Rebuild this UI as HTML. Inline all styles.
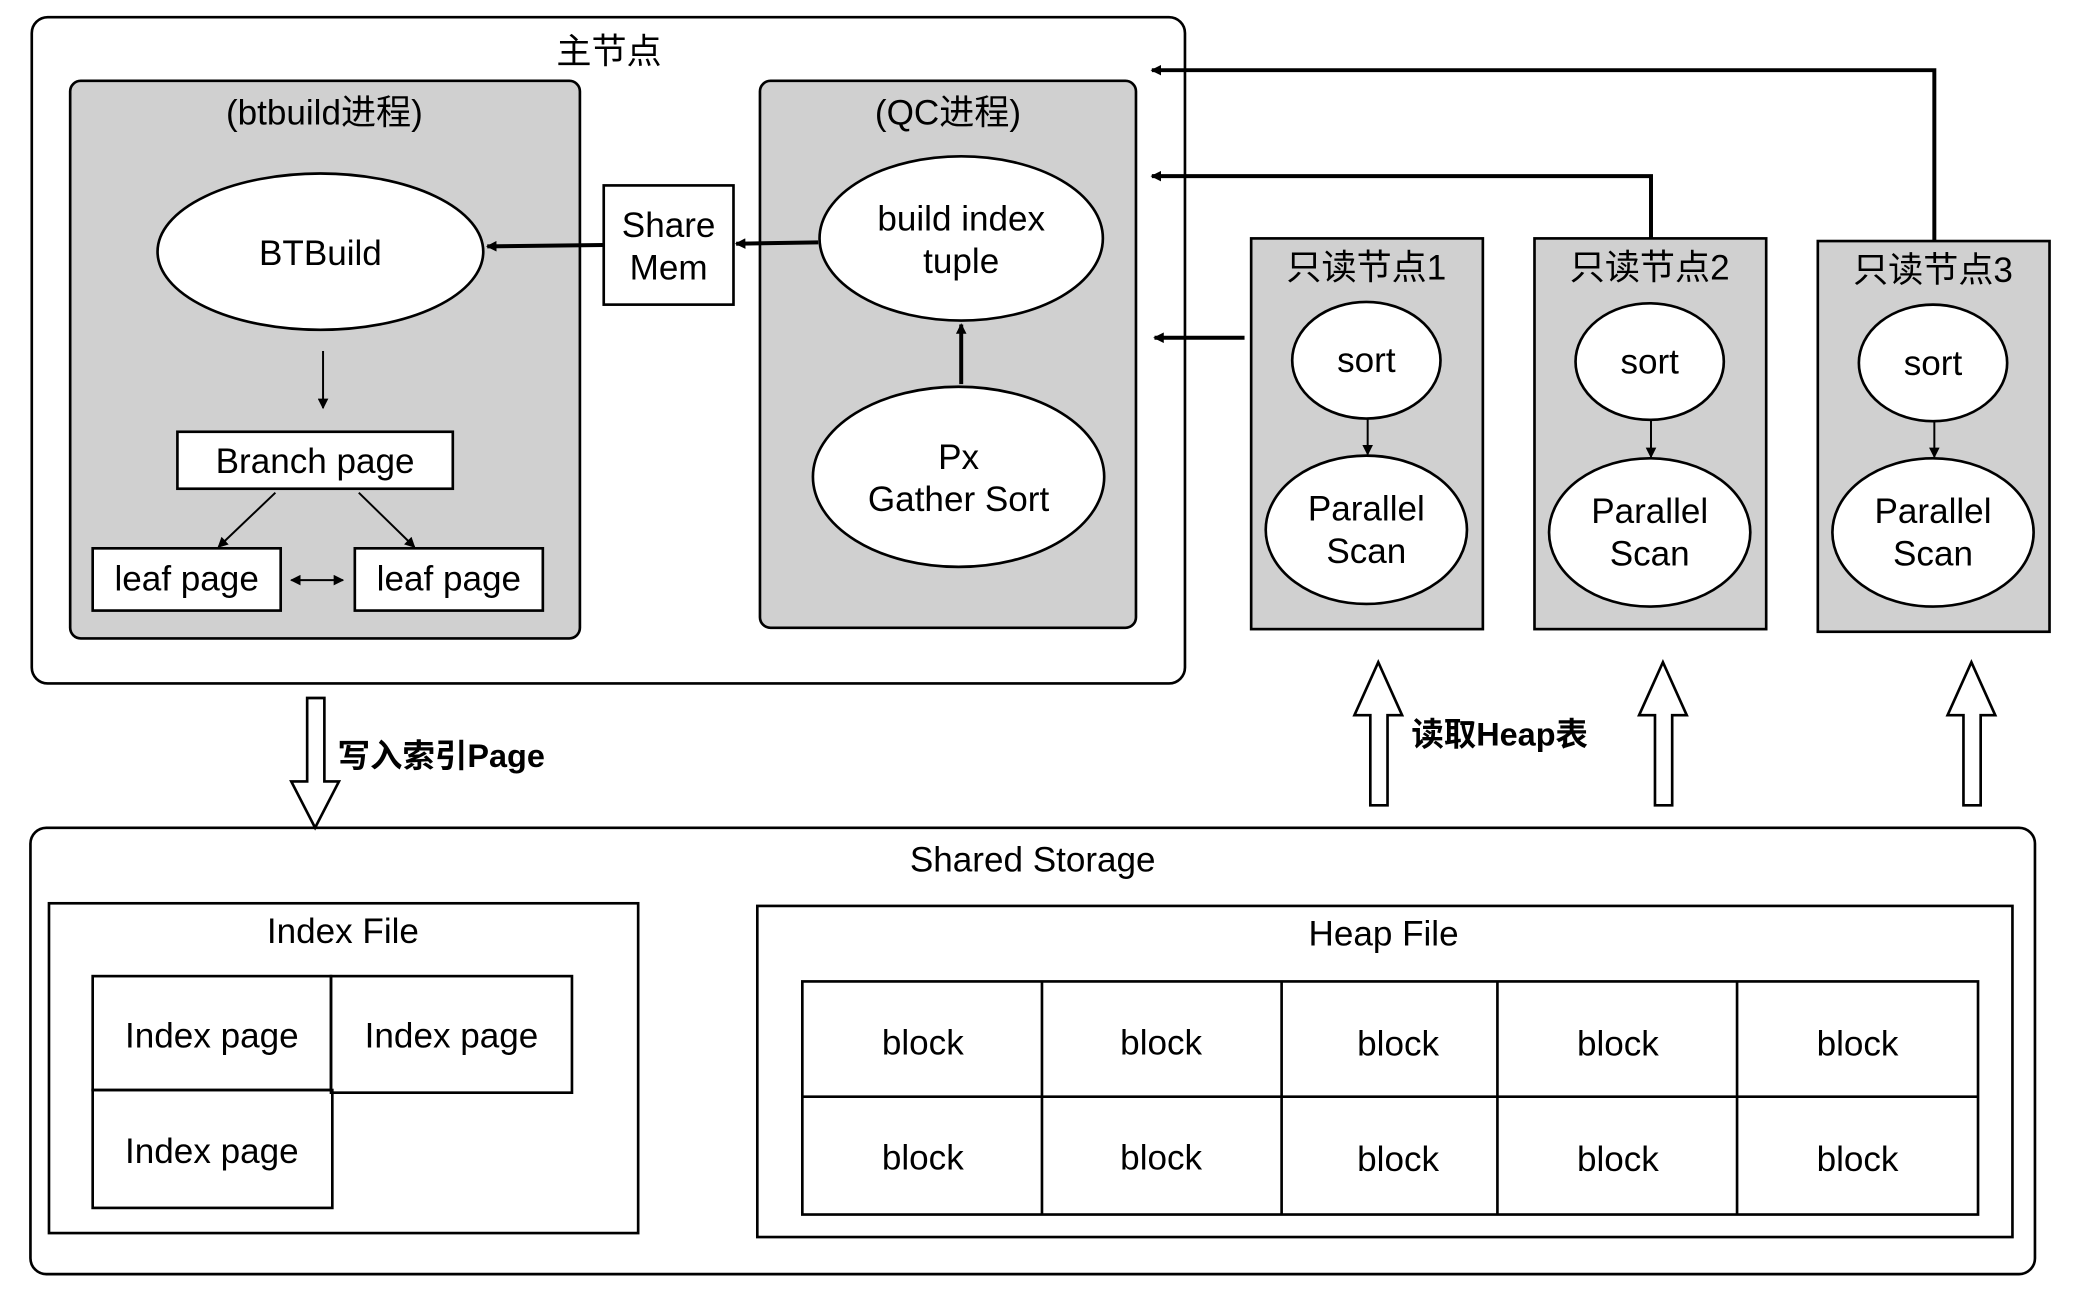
<!DOCTYPE html>
<html><head><meta charset="utf-8"><style>
html,body{margin:0;padding:0;background:#fff;}
svg{display:block;}
text{font-family:"Liberation Sans","Noto Sans CJK SC",sans-serif;fill:#000;}
</style></head><body>
<svg width="2076" height="1294" viewBox="0 0 1568 977" preserveAspectRatio="none" xmlns="http://www.w3.org/2000/svg">
<defs>
<marker id="a" markerWidth="8" markerHeight="8" refX="7" refY="4" orient="auto" markerUnits="userSpaceOnUse"><path d="M0,0 L8,4 L0,8 z" fill="#000"/></marker>
<marker id="a2" markerWidth="8" markerHeight="8" refX="1" refY="4" orient="auto" markerUnits="userSpaceOnUse"><path d="M8,0 L0,4 L8,8 z" fill="#000"/></marker>
</defs>
<g fill="none" stroke="#000" stroke-width="2">
<rect x="24" y="13" width="871" height="503" rx="12" fill="#fff"/>
<rect x="53" y="61" width="385" height="421" rx="8" fill="#d0d0d0"/>
<rect x="574" y="61" width="284" height="413" rx="8" fill="#d0d0d0"/>
<ellipse cx="242" cy="190" rx="123" ry="59" fill="#fff"/>
<rect x="134" y="326" width="208" height="43" fill="#fff"/>
<rect x="70" y="414" width="142" height="47" fill="#fff"/>
<rect x="268" y="414" width="142" height="47" fill="#fff"/>
<rect x="456" y="140" width="98" height="90" fill="#fff"/>
<ellipse cx="726" cy="180" rx="107" ry="62" fill="#fff"/>
<ellipse cx="724" cy="360" rx="110" ry="68" fill="#fff"/>
<rect x="945" y="180" width="175" height="295" fill="#d0d0d0"/>
<rect x="1159" y="180" width="175" height="295" fill="#d0d0d0"/>
<rect x="1373" y="182" width="175" height="295" fill="#d0d0d0"/>
<ellipse cx="1032" cy="272" rx="56" ry="44" fill="#fff"/>
<ellipse cx="1032" cy="400" rx="76" ry="56" fill="#fff"/>
<ellipse cx="1246" cy="273" rx="56" ry="44" fill="#fff"/>
<ellipse cx="1246" cy="402" rx="76" ry="56" fill="#fff"/>
<ellipse cx="1460" cy="274" rx="56" ry="44" fill="#fff"/>
<ellipse cx="1460" cy="402" rx="76" ry="56" fill="#fff"/>
<rect x="23" y="625" width="1514" height="337" rx="12"/>
<rect x="37" y="682" width="445" height="249"/>
<rect x="70" y="737" width="180" height="86"/>
<rect x="250" y="737" width="182" height="88"/>
<rect x="70" y="823" width="181" height="89"/>
<rect x="572" y="684" width="948" height="250"/>
<rect x="606" y="741" width="888" height="176"/>
<path d="M787 741V917M968 741V917M1131 741V917M1312 741V917M606 828H1494"/>
</g>
<g stroke="#000" stroke-width="1.5" fill="none">
<line x1="244" y1="265" x2="244" y2="308" marker-end="url(#a)"/>
<line x1="208" y1="372" x2="165" y2="413" marker-end="url(#a)"/>
<line x1="271" y1="372" x2="313" y2="413" marker-end="url(#a)"/>
<line x1="220" y1="438" x2="259" y2="438" marker-end="url(#a)" marker-start="url(#a2)"/>
<line x1="1033" y1="316" x2="1033" y2="343" marker-end="url(#a)"/>
<line x1="1247" y1="317" x2="1247" y2="345" marker-end="url(#a)"/>
<line x1="1461" y1="318" x2="1461" y2="345" marker-end="url(#a)"/>
</g>
<g stroke="#000" stroke-width="3" fill="none">
<line x1="456" y1="185" x2="368" y2="186" marker-end="url(#a)"/>
<line x1="618" y1="183" x2="556" y2="184" marker-end="url(#a)"/>
<line x1="726" y1="290" x2="726" y2="245" marker-end="url(#a)"/>
<line x1="940" y1="255" x2="872" y2="255" marker-end="url(#a)"/>
<polyline points="1247,180 1247,133 870,133" marker-end="url(#a)"/>
<polyline points="1461,182 1461,53 870,53" marker-end="url(#a)"/>
</g>
<g stroke="#000" stroke-width="2" fill="#fff">
<path d="M232 527H245V590H256L238 625L220 590H232Z"/>
<path d="M1035 608H1048V540H1059L1041 500L1023 540H1035Z"/>
<path d="M1250 608H1263V540H1274L1256 500L1238 540H1250Z"/>
<path d="M1483 608H1496V540H1507L1489 500L1471 540H1483Z"/>
</g>
<g font-size="26.5" text-anchor="middle">
<text x="460" y="48">主节点</text>
<text x="245" y="94">(btbuild进程)</text>
<text x="716" y="94">(QC进程)</text>
<text x="242" y="200">BTBuild</text>
<text x="238" y="357">Branch page</text>
<text x="141" y="446">leaf page</text>
<text x="339" y="446">leaf page</text>
<text x="505" y="179">Share</text>
<text x="505" y="211">Mem</text>
<text x="726" y="174">build index</text>
<text x="726" y="206">tuple</text>
<text x="724" y="354">Px</text>
<text x="724" y="386">Gather Sort</text>
<text x="1032" y="211">只读节点1</text>
<text x="1246" y="211">只读节点2</text>
<text x="1460" y="213">只读节点3</text>
<text x="1032" y="281">sort</text>
<text x="1032" y="393">Parallel</text>
<text x="1032" y="425">Scan</text>
<text x="1246" y="282">sort</text>
<text x="1246" y="395">Parallel</text>
<text x="1246" y="427">Scan</text>
<text x="1460" y="283">sort</text>
<text x="1460" y="395">Parallel</text>
<text x="1460" y="427">Scan</text>
<text x="780" y="658">Shared Storage</text>
<text x="259" y="712">Index File</text>
<text x="160" y="791">Index page</text>
<text x="341" y="791">Index page</text>
<text x="160" y="878">Index page</text>
<text x="1045" y="714">Heap File</text>
<text x="697" y="796">block</text><text x="877" y="796">block</text><text x="1056" y="797">block</text><text x="1222" y="797">block</text><text x="1403" y="797">block</text>
<text x="697" y="883">block</text><text x="877" y="883">block</text><text x="1056" y="884">block</text><text x="1222" y="884">block</text><text x="1403" y="884">block</text>
</g>
<text x="255" y="579" font-size="24.5" font-weight="bold">写入索引Page</text>
<text x="1066" y="563" font-size="24.5" font-weight="bold">读取Heap表</text>
</svg>
</body></html>
